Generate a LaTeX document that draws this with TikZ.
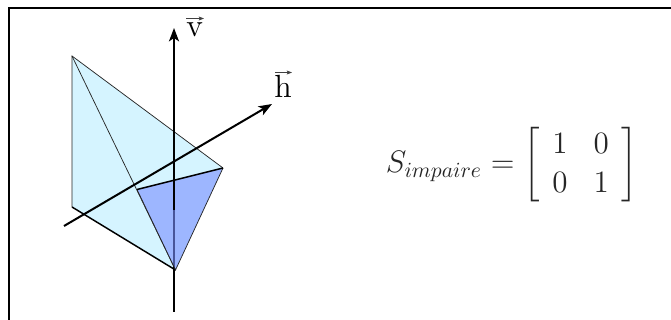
\documentclass[tikz,border=0pt]{standalone}
\usepackage{amsmath}
\usetikzlibrary{arrows.meta}
\definecolor{paleface}{RGB}{213,244,255}
\definecolor{blueface}{RGB}{120,142,255}
\tikzset{
  thinedge/.style={draw=black!85,line width=0.55pt},
  thickedge/.style={draw=black,line width=1.1pt},
  axisline/.style={draw=black,line width=1.5pt},
  axisarrow/.style={axisline,-{Stealth[length=10pt,width=7.5pt,inset=2.5pt]}},
  lab/.style={inner sep=0pt,font=\Large,scale=1.67},
  eqlab/.style={inner sep=0pt,font=\Large,scale=1.62,text=black!85},
  overarrow/.style={draw=black!75,line width=0.5pt,-{Stealth[length=4pt,width=3pt,inset=1pt]}},
}
\begin{document}
\begin{tikzpicture}[x=0.75pt,y=-0.75pt]
\useasboundingbox (0,0) rectangle (671,320);
\coordinate (A) at (72,56);
\coordinate (B) at (72,207);
\coordinate (C) at (175.5,270);
\coordinate (D) at (223,168);
\coordinate (E) at (137,189.5);
\coordinate (Vb) at (174,312);
\coordinate (Vm) at (174,210);
\coordinate (Vt) at (174,28);
\coordinate (Hb) at (64,226);
\coordinate (Ht) at (272,104);
\coordinate (F1) at (8.5,320);
\coordinate (F2) at (8.5,8.5);
\coordinate (F3) at (671,8.5);
\coordinate (va) at (186,18.5);
\coordinate (vb) at (204,18.5);
\coordinate (ha) at (275,72.5);
\coordinate (hb) at (292,72.5);
\draw[line width=1.5pt,line cap=butt] (F1) -- (F2) -- (F3);
\fill[paleface] (A) -- (B) -- (C) -- (D) -- cycle;
\draw[thinedge] (B) -- (A) -- (D);
\draw[thinedge] (A) -- (C);
\draw[thickedge] (B) -- (C);
\draw[axisarrow] (Hb) -- (Ht);
\draw[axisline] (Vb) -- (Vm);
\fill[blueface,opacity=0.6] (E) -- (D) -- (C) -- cycle;
\draw[axisarrow] (Vm) -- (Vt);
\draw[thinedge] (E) -- (C) -- (D);
\draw[thickedge] (E) -- (D);
\node[lab,anchor=base] (v) at (195,37) {$\mathrm{v}$};
\node[lab,anchor=base] (h) at (283,98) {$\mathrm{h}$};
\draw[overarrow] (va) -- (vb);
\draw[overarrow] (ha) -- (hb);
\node[eqlab] (m) at (512,165) {\renewcommand{\arraystretch}{1.0}\setlength{\arraycolsep}{6pt}$S_{impaire}=\left[\begin{array}{cc}1&0\\0&1\end{array}\right]$};
\end{tikzpicture}
\end{document}
